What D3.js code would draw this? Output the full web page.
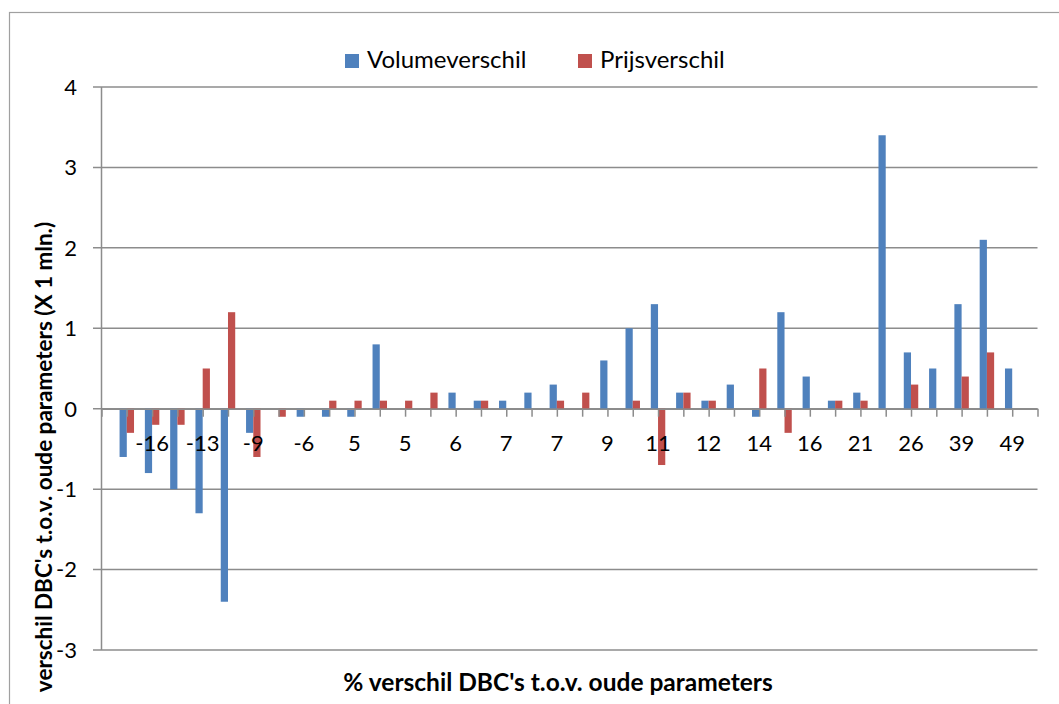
<!DOCTYPE html>
<html>
<head>
<meta charset="utf-8">
<script src="https://cdn.jsdelivr.net/npm/d3@7"></script>
<style>
	body { margin: 0; background: #ffffff; }
	svg { display: block; }
</style>
</head>
<body>
<div id="chart"></div>
<script>
//Chart values
var seriesNames = ['Volumeverschil', 'Prijsverschil'];
var seriesColors = ['#4f81bd', '#c0504d'];

//One entry per bar group (36 groups), left to right
var volumeverschil = [-0.6, -0.8, -1.0, -1.3, -2.4, -0.3, 0, -0.1, -0.1, -0.1,
	0.8, 0, 0, 0.2, 0.1, 0.1, 0.2, 0.3, 0, 0.6,
	1.0, 1.3, 0.2, 0.1, 0.3, -0.1, 1.2, 0.4, 0.1, 0.2,
	3.4, 0.7, 0.5, 1.3, 2.1, 0.5];
var prijsverschil = [-0.3, -0.2, -0.2, 0.5, 1.2, -0.6, -0.1, 0, 0.1, 0.1,
	0.1, 0.1, 0.2, 0, 0.1, 0, 0, 0.1, 0.2, 0,
	0.1, -0.7, 0.2, 0.1, 0, 0.5, -0.3, 0, 0.1, 0.1,
	0, 0.3, 0, 0.4, 0.7, 0];

//Only every second group carries a label
var tickLabels = ['-16', '-13', '-9', '-6', '5', '5', '6', '7', '7',
	'9', '11', '12', '14', '16', '21', '26', '39', '49'];
var yTicks = [-3, -2, -1, 0, 1, 2, 3, 4];

var yTitle = "verschil DBC's t.o.v. oude parameters (X 1 mln.)";
var xTitle = "% verschil DBC's t.o.v. oude parameters";

var width = 1059, height = 704;
var font = 'Lato, "Open Sans", sans-serif';

var svg = d3.select('#chart').append('svg')
	.attr('width', width)
	.attr('height', height);

//Outer chart border (runs past the right and bottom edge)
svg.append('rect')
	.attr('x', 9.5)
	.attr('y', 12.5)
	.attr('width', 1100)
	.attr('height', 760)
	.style('fill', 'none')
	.attr('stroke', '#a0a0a0')
	.attr('stroke-width', 1.2);

var nGroups = volumeverschil.length;
var x = d3.scaleLinear()
	.domain([0, nGroups + 1])
	.range([101.5, 1037.5]);
var y = d3.scaleLinear()
	.domain([-3, 4])
	.range([650, 87]);

var step = x(1) - x(0);
var sub = d3.scaleBand()
	.domain(seriesNames)
	.range([-step / 3.5, step / 3.5]);

//Gridlines + y ticks
var gridGroup = svg.append('g');
gridGroup.selectAll('line')
	.data(yTicks)
	.enter()
	.append('line')
		.attr('x1', 93)
		.attr('x2', x.range()[1])
		.attr('y1', function(d) { return y(d); })
		.attr('y2', function(d) { return y(d); })
		.attr('stroke', '#8c8c8c')
		.attr('stroke-width', 1.5);

svg.append('g').selectAll('text')
	.data(yTicks)
	.enter()
	.append('text')
		.attr('x', 77)
		.attr('y', function(d) { return y(d); })
		.attr('dy', '0.36em')
		.attr('text-anchor', 'end')
		.attr('font-family', font)
		.attr('font-size', '22px')
		.attr('fill', '#000')
		.text(function(d) { return d; });

//Bars
var rows = volumeverschil.map(function(v, i) {
	return { idx: i + 1, values: [v, prijsverschil[i]] };
});

var barGroup = svg.append('g');
seriesNames.forEach(function(name, s) {
	barGroup.append('g').selectAll('rect')
		.data(rows)
		.enter()
		.append('rect')
			.attr('x', function(d) { return x(d.idx) + sub(name); })
			.attr('width', sub.bandwidth())
			.attr('y', function(d) { return y(Math.max(0, d.values[s])); })
			.attr('height', function(d) { return Math.abs(y(d.values[s]) - y(0)); })
			.style('fill', seriesColors[s]);
});

//Y axis line
svg.append('line')
	.attr('x1', x.range()[0])
	.attr('x2', x.range()[0])
	.attr('y1', y(4))
	.attr('y2', y(-3))
	.attr('stroke', '#8c8c8c')
	.attr('stroke-width', 1.5);

//X axis along zero, ticks between groups
var xAxis = d3.axisBottom(x)
	.tickValues(d3.range(0, nGroups + 2))
	.tickSize(8)
	.tickSizeOuter(0)
	.tickFormat('');
var xAxisG = svg.append('g')
	.attr('transform', 'translate(0,' + y(0) + ')')
	.call(xAxis);
xAxisG.selectAll('line, path')
	.attr('stroke', '#8c8c8c')
	.attr('stroke-width', 1.5);

svg.append('g').selectAll('text')
	.data(tickLabels)
	.enter()
	.append('text')
		.attr('x', function(d, i) { return x((i + 1) * 2); })
		.attr('y', 451)
		.attr('text-anchor', 'middle')
		.attr('font-family', font)
		.attr('font-size', '22px')
		.attr('fill', '#000')
		.text(function(d) { return d; });

//Legend
var legendX = [345, 578];
var legend = svg.append('g');
seriesNames.forEach(function(name, s) {
	legend.append('rect')
		.attr('x', legendX[s])
		.attr('y', 54)
		.attr('width', 14)
		.attr('height', 14)
		.style('fill', seriesColors[s]);
	legend.append('text')
		.attr('x', legendX[s] + 22)
		.attr('y', 68)
		.attr('font-family', font)
		.attr('font-size', '24px')
		.attr('fill', '#000')
		.text(name);
});

//Axis titles
svg.append('text')
	.attr('transform', 'translate(52,457) rotate(-90)')
	.attr('text-anchor', 'middle')
	.attr('font-family', font)
	.attr('font-size', '22.5px')
	.attr('font-weight', '700')
	.attr('fill', '#000')
	.text(yTitle);

svg.append('text')
	.attr('x', 558)
	.attr('y', 691)
	.attr('text-anchor', 'middle')
	.attr('font-family', font)
	.attr('font-size', '24.5px')
	.attr('font-weight', '700')
	.attr('fill', '#000')
	.text(xTitle);
</script>
</body>
</html>
